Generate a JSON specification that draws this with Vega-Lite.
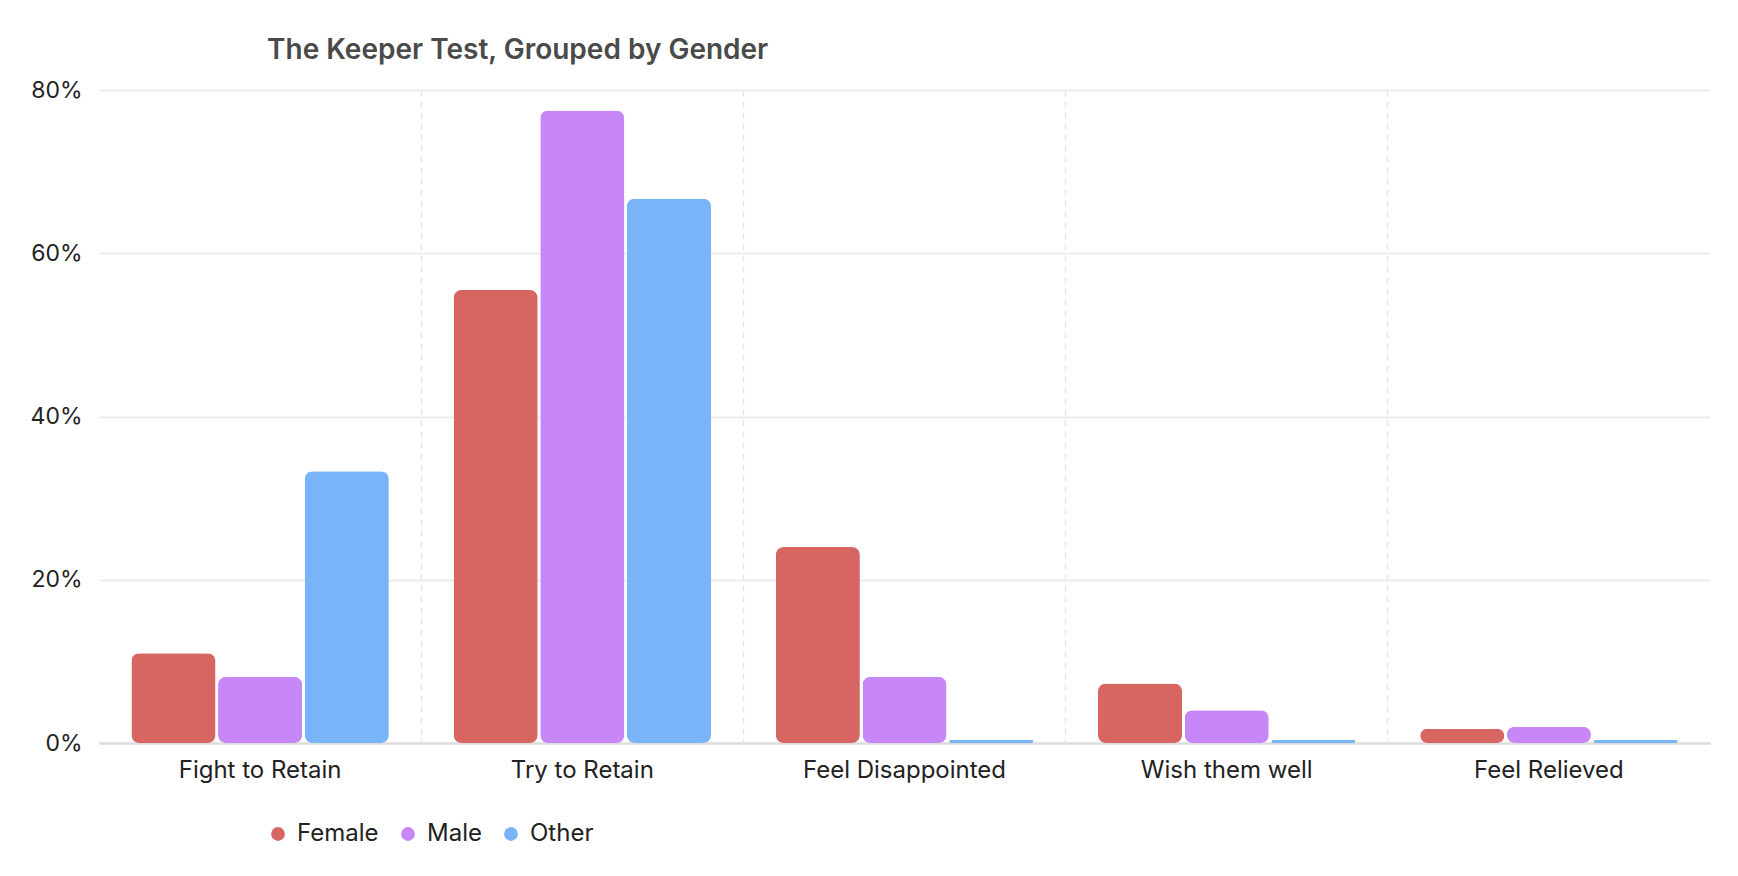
{
  "$schema": "https://vega.github.io/schema/vega-lite/v6.json",
  "width": 1611,
  "height": 653,
  "autosize": {"type": "none"},
  "padding": {"left": 99, "top": 90, "right": 28, "bottom": 133},
  "background": "#ffffff",
  "title": {
    "text": "The Keeper Test, Grouped by Gender",
    "anchor": "start",
    "dx": 237,
    "dy": 38,
    "offset": 30,
    "baseline": "alphabetic",
    "font": "Inter",
    "fontSize": 28,
    "fontWeight": 600,
    "color": "#4a4a4a"
  },
  "data": {
    "values": [
      {"response": "Fight to Retain", "gender": "Female", "share": 0.110},
      {"response": "Fight to Retain", "gender": "Male", "share": 0.081},
      {"response": "Fight to Retain", "gender": "Other", "share": 0.333},
      {"response": "Try to Retain", "gender": "Female", "share": 0.555},
      {"response": "Try to Retain", "gender": "Male", "share": 0.775},
      {"response": "Try to Retain", "gender": "Other", "share": 0.667},
      {"response": "Feel Disappointed", "gender": "Female", "share": 0.240},
      {"response": "Feel Disappointed", "gender": "Male", "share": 0.081},
      {"response": "Feel Disappointed", "gender": "Other", "share": 0.004},
      {"response": "Wish them well", "gender": "Female", "share": 0.073},
      {"response": "Wish them well", "gender": "Male", "share": 0.040},
      {"response": "Wish them well", "gender": "Other", "share": 0.004},
      {"response": "Feel Relieved", "gender": "Female", "share": 0.0175},
      {"response": "Feel Relieved", "gender": "Male", "share": 0.020},
      {"response": "Feel Relieved", "gender": "Other", "share": 0.004}
    ]
  },
  "mark": {"type": "bar", "cornerRadius": 8},
  "encoding": {
    "x": {
      "field": "response",
      "type": "nominal",
      "sort": ["Fight to Retain", "Try to Retain", "Feel Disappointed", "Wish them well", "Feel Relieved"],
      "scale": {"paddingInner": 0, "paddingOuter": 0},
      "axis": {
        "title": null,
        "labelAngle": 0,
        "labelFont": "Inter",
        "labelFontSize": 24,
        "labelColor": "#222222",
        "labelPadding": 15,
        "labelLimit": 0,
        "ticks": false,
        "domainColor": "#dddddd",
        "domainWidth": 2.5,
        "grid": true,
        "bandPosition": 0,
        "gridDash": [6, 5],
        "gridColor": "#e6e6e6",
        "gridWidth": 1.5,
        "gridOpacity": {"condition": {"test": "datum.value == 'Fight to Retain'", "value": 0}, "value": 1}
      }
    },
    "xOffset": {
      "field": "gender",
      "type": "nominal",
      "sort": ["Female", "Male", "Other"],
      "scale": {"paddingInner": 0.03, "paddingOuter": 0.374}
    },
    "y": {
      "field": "share",
      "type": "quantitative",
      "scale": {"domain": [0, 0.8]},
      "axis": {
        "title": null,
        "format": ".0%",
        "values": [0, 0.2, 0.4, 0.6, 0.8],
        "labelFont": "Inter",
        "labelFontSize": 23,
        "labelColor": "#222222",
        "labelPadding": 17,
        "ticks": false,
        "domain": false,
        "gridColor": "#ececec",
        "gridWidth": 2
      }
    },
    "color": {
      "field": "gender",
      "type": "nominal",
      "scale": {
        "domain": ["Female", "Male", "Other"],
        "range": ["#d76662", "#c887f7", "#7ab4f8"]
      },
      "legend": {
        "title": null,
        "orient": "none",
        "direction": "horizontal",
        "legendX": 167,
        "legendY": 732,
        "symbolType": "circle",
        "symbolSize": 190,
        "labelFont": "Inter",
        "labelFontSize": 24,
        "labelColor": "#222222",
        "labelOffset": 7,
        "columnPadding": 17
      }
    }
  },
  "config": {
    "view": {"stroke": null}
  }
}
